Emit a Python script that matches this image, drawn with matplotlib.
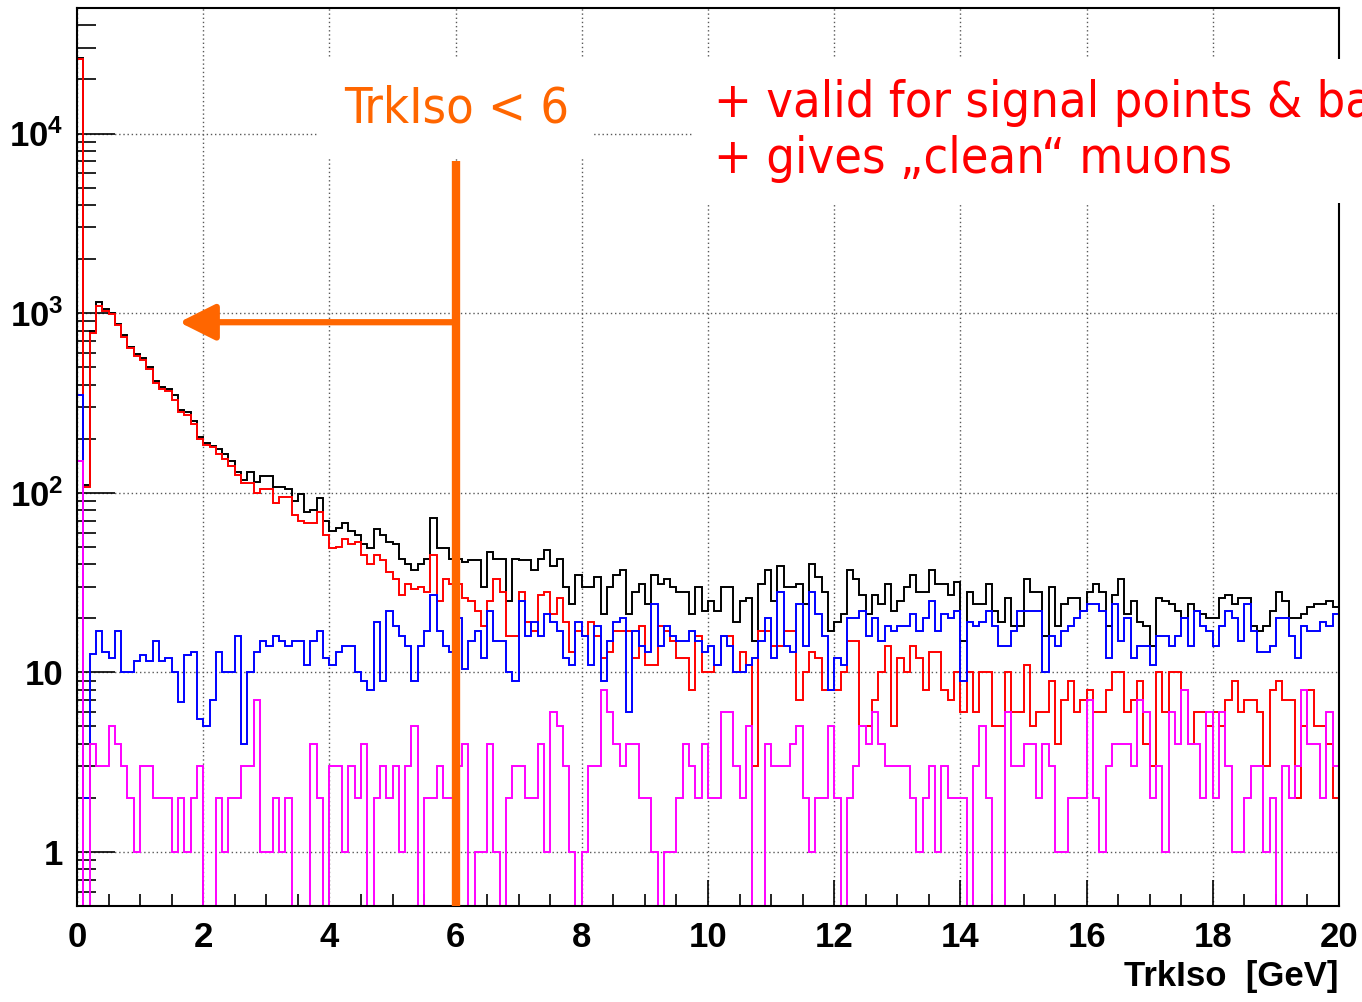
import os
import numpy as np
import matplotlib
matplotlib.use("Agg")
import matplotlib.pyplot as plt
from matplotlib import font_manager as fm
from matplotlib.ticker import FixedLocator, LogLocator, MultipleLocator, NullFormatter

# TrkIso distributions, 200 bins of 0.1 GeV between 0 and 20 GeV
total = [
    26500, 110, 800, 1150, 1050, 1000, 870, 760, 650, 590,
    560, 500, 420, 390, 380, 350, 290, 280, 250, 205,
    190, 182, 175, 165, 150, 130, 117, 130, 115, 124,
    124, 107, 107, 105, 90, 98, 78, 80, 93, 70,
    61, 64, 68, 61, 58, 52, 49, 63, 58, 53,
    52, 43, 40, 37, 40, 43, 72, 49, 49, 43,
    43, 41, 42, 42, 30, 47, 43, 43, 25, 43,
    42, 42, 37, 43, 48, 39, 43, 30, 24, 35,
    30, 30, 34, 21, 30, 35, 37, 21, 28, 31,
    24, 35, 31, 33, 30, 28, 28, 21, 30, 22,
    25, 22, 30, 30, 19, 25, 26, 15, 31, 37,
    25, 39, 30, 30, 31, 24, 40, 34, 28, 17,
    19, 21, 37, 33, 27, 21, 27, 24, 31, 22,
    25, 30, 35, 28, 28, 37, 31, 31, 27, 32,
    15, 28, 24, 24, 31, 22, 19, 26, 18, 18,
    33, 28, 28, 16, 30, 18, 24, 26, 26, 22,
    28, 31, 28, 18, 27, 33, 21, 25, 19, 18,
    14, 26, 25, 24, 22, 20, 24, 22, 21, 20,
    20, 26, 27, 24, 26, 26, 18, 17, 18, 22,
    28, 25, 20, 20, 21, 23, 24, 24, 25, 23,
]

bkg_red = [
    26000, 108, 780, 1100, 1030, 990, 860, 740, 640, 580,
    550, 490, 410, 380, 370, 330, 280, 270, 240, 200,
    185, 180, 165, 155, 140, 125, 113, 113, 100, 105,
    105, 88, 95, 95, 75, 70, 68, 68, 78, 58,
    49, 50, 55, 52, 53, 45, 40, 45, 42, 36,
    33, 27, 31, 29, 30, 28, 45, 25, 33, 31,
    31, 26, 25, 22, 18, 25, 33, 28, 16, 16,
    28, 19, 17, 27, 28, 21, 26, 19, 13, 17,
    16, 19, 16, 12, 13, 17, 17, 17, 12, 18,
    11, 11, 18, 17, 15, 12, 12, 8, 16, 10,
    10, 11, 16, 16, 10, 13, 11, 3, 17, 17,
    14, 14, 17, 17, 7, 10, 13, 12, 8, 8,
    8, 10, 15, 15, 5, 5, 7, 10, 14, 5,
    12, 10, 14, 12, 8, 13, 13, 8, 7, 10,
    6, 10, 6, 10, 10, 5, 5, 10, 6, 6,
    11, 5, 6, 6, 9, 4, 7, 9, 6, 7,
    8, 6, 6, 8, 10, 10, 6, 7, 9, 4,
    3, 10, 6, 10, 10, 8, 4, 6, 6, 5,
    6, 5, 7, 9, 6, 7, 7, 6, 3, 8,
    9, 7, 7, 2, 5, 8, 5, 5, 4, 2,
]

bkg_blue = [
    350, 2, 12.6, 17, 13, 12, 17, 10, 10, 11.5,
    12.5, 11.5, 15, 11.5, 12, 10, 6.8, 12.5, 13, 5.5,
    5, 7, 13, 10, 10, 16, 4, 10, 13, 15,
    14, 16, 15, 14, 15, 15, 11, 15, 17, 12,
    11, 13, 14, 14, 10, 9, 8, 19, 9, 22,
    18, 16, 14, 9, 14, 17, 27, 17, 14, 13,
    20, 10.5, 15, 17, 12, 22, 15, 15, 10, 9,
    25, 16, 19, 16, 21, 19, 17, 12, 11, 19,
    16, 11, 18, 9, 15, 19, 20, 6, 17, 14,
    13, 24, 14, 18, 16, 15, 15, 17, 15, 13,
    14, 11, 16, 14, 10, 10, 11, 12, 15, 20,
    12, 28, 14, 13, 24, 14, 28, 21, 16, 8,
    12, 11, 20, 20, 22, 16, 20, 15, 18, 17,
    18, 18, 21, 17, 20, 25, 17, 21, 20, 22,
    9, 19, 18, 19, 22, 18, 14, 14, 17, 22,
    22, 22, 22, 10, 16, 14, 17, 18, 20, 22,
    24, 24, 22, 12, 24, 15, 20, 12, 14, 14,
    11, 16, 16, 14, 16, 20, 14, 22, 18, 17,
    14, 18, 22, 20, 15, 24, 17, 13, 13, 14,
    20, 20, 16, 12, 18, 17, 17, 19, 18, 21,
]

signal = [
    150, 0, 4, 3, 3, 5, 4, 3, 2, 1,
    3, 3, 2, 2, 2, 1, 2, 1, 2, 3,
    0, 0, 2, 1, 2, 2, 3, 3, 7, 1,
    1, 2, 1, 2, 0, 0, 0, 4, 2, 0,
    3, 3, 1, 3, 2, 4, 0, 2, 3, 2,
    3, 1, 3, 5, 0, 2, 2, 3, 2, 2,
    3, 4, 0, 1, 1, 4, 1, 0, 2, 3,
    3, 2, 2, 4, 1, 6, 5, 3, 1, 0,
    1, 3, 3, 8, 6, 4, 3, 4, 4, 2,
    2, 1, 0, 1, 1, 2, 4, 3, 2, 4,
    2, 2, 6, 6, 3, 2, 5, 0, 0, 4,
    3, 3, 3, 4, 5, 2, 1, 2, 2, 5,
    2, 0, 2, 3, 5, 4, 6, 4, 3, 3,
    3, 3, 2, 1, 2, 3, 1, 3, 2, 2,
    2, 0, 3, 5, 2, 0, 0, 6, 3, 3,
    4, 4, 2, 4, 3, 1, 1, 2, 2, 2,
    7, 2, 1, 3, 4, 4, 4, 3, 7, 6,
    2, 3, 1, 6, 4, 8, 4, 4, 2, 6,
    2, 6, 3, 1, 1, 2, 3, 3, 1, 2,
    0, 3, 2, 3, 8, 4, 4, 2, 6, 3,
]

x_ticks = list(range(0, 21, 2))
y_ticks = [1, 10, 100, 1000, 10000]
y_labels = ["1", "10", r"$\mathbf{10^{2}}$", r"$\mathbf{10^{3}}$", r"$\mathbf{10^{4}}$"]

cut_value = 6.0
cut_top = 7000
arrow_level = 890
arrow_tip = 1.62

orange = "#ff6600"

plt.rcParams["font.family"] = ["Liberation Sans", "DejaVu Sans"]
plt.rcParams["mathtext.fontset"] = "custom"
plt.rcParams["mathtext.bf"] = "Liberation Sans:bold"
plt.rcParams["mathtext.rm"] = "Liberation Sans"


def narrow_font():
    # look for a condensed face among the installed fonts
    files = {os.path.splitext(os.path.basename(f.fname))[0]: f.fname
             for f in fm.fontManager.ttflist}
    for name in ["LiberationSansNarrow-Regular", "NotoSans-Condensed",
                 "DejaVuSansCondensed", "OpenSans_Condensed-Regular",
                 "OpenSans-CondensedRegular", "Roboto-Condensed",
                 "RobotoCondensed-Regular", "NotoSans-SemiCondensed"]:
        if name in files:
            return fm.FontProperties(fname=files[name])
    for key, path in files.items():
        low = key.lower()
        if ("condensed" in low or "narrow" in low) and not any(
                s in low for s in ("bold", "italic", "oblique", "light", "thin",
                                   "black", "medium", "extra")):
            return fm.FontProperties(fname=path)
    return fm.FontProperties(family="DejaVu Sans")


fig = plt.figure(figsize=(13.62, 10.02), dpi=100)
ax = fig.add_axes([77 / 1362, 1 - 906 / 1002, (1339 - 77) / 1362, (906 - 8) / 1002])

edges = np.linspace(0, 20, len(total) + 1)
floor = 1e-3
for vals, col in [(total, "black"), (bkg_red, "#ff0000"),
                  (bkg_blue, "#0000ff"), (signal, "#ff00ff")]:
    v = np.asarray(vals, dtype=float)
    v = np.where(v > 0, v, floor)
    ax.stairs(v, edges, baseline=floor, color=col, lw=1.4, zorder=2)

ax.set_yscale("log")
ax.set_xlim(0, 20)
ax.set_ylim(0.5, 5e4)

ax.set_axisbelow(True)
ax.grid(True, which="major", linestyle=(0, (1, 2)), color="0.35", lw=1.0)

ax.xaxis.set_major_locator(FixedLocator(x_ticks))
ax.xaxis.set_minor_locator(MultipleLocator(0.5))
ax.set_xticklabels([str(t) for t in x_ticks], fontsize=25, fontweight="bold")
ax.set_yticks(y_ticks)
ax.set_yticklabels(y_labels, fontsize=25, fontweight="bold")
ax.yaxis.set_minor_locator(LogLocator(base=10, subs=np.arange(2, 10), numticks=20))
ax.yaxis.set_minor_formatter(NullFormatter())

ax.tick_params(axis="x", which="major", direction="in", length=19, width=1.2, pad=11)
ax.tick_params(axis="x", which="minor", direction="in", length=9, width=1.2)
ax.tick_params(axis="y", which="major", direction="in", length=27, width=1.2, pad=10)
ax.tick_params(axis="y", which="minor", direction="in", length=14, width=1.2)
for side in ["left", "bottom", "top", "right"]:
    ax.spines[side].set_linewidth(1.5)

ax.set_xlabel("TrkIso  [GeV]", fontsize=25, fontweight="bold", loc="right", labelpad=4)

# cut line and arrow
ax.plot([cut_value, cut_value], [cut_top, 0.01], color=orange, lw=6,
        solid_capstyle="butt", zorder=5)
ax.annotate("", xy=(arrow_tip, arrow_level), xytext=(cut_value, arrow_level),
            arrowprops=dict(arrowstyle="-|>,head_length=1.1,head_width=0.55",
                            color=orange, lw=4.5, mutation_scale=20,
                            shrinkA=0, shrinkB=0), zorder=5)

note_font = narrow_font()
cut_label = ax.text(4.23, 13800, "TrkIso < 6", color=orange, fontproperties=note_font,
                    fontsize=38, ha="left", va="center", zorder=4,
                    bbox=dict(boxstyle="square,pad=0.5", facecolor="white", edgecolor="none"))
remarks = ax.text(10.1, 10300,
                  "+ valid for signal points & background\n+ gives \u201eclean\u201c muons",
                  color="#ff0000", fontproperties=note_font, fontsize=38,
                  ha="left", va="center", linespacing=1.2, zorder=4, clip_on=False,
                  bbox=dict(boxstyle="square,pad=0.4", facecolor="white", edgecolor="none"))

# size the notes so the cut label spans about 225 px
fig.canvas.draw()
width = cut_label.get_window_extent().width
size = 38 * 225 / width
cut_label.set_fontsize(size)
remarks.set_fontsize(size)

fig.savefig("out.png", dpi=100)
